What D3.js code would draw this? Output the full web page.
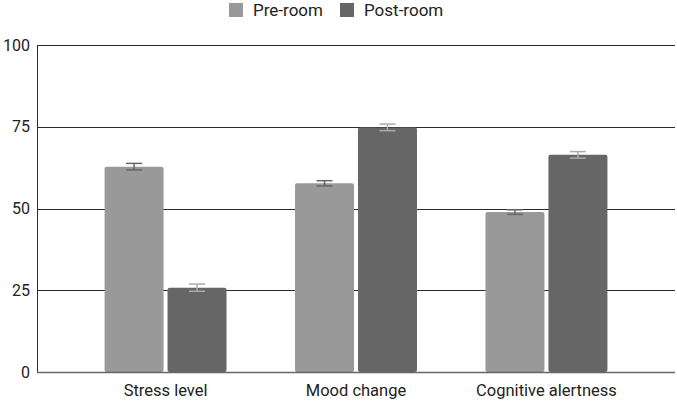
<!DOCTYPE html>
<html>
<head>
<meta charset="utf-8">
<script src="https://cdn.jsdelivr.net/npm/d3@7"></script>
<style>
  body { margin: 0; background: #fff; }
  svg { font-family: Roboto, sans-serif; }
</style>
</head>
<body>
<svg id="chart" width="677" height="403"></svg>
<script>
const categories = ['Stress level', 'Mood change', 'Cognitive alertness'];
const series = ['Pre-room', 'Post-room'];
const preValues = [62.8, 57.7, 48.9];
const postValues = [25.8, 74.8, 66.4];
const preErrors = [1.0, 0.8, 0.7];
const postErrors = [1.1, 1.0, 1.0];
const yTicks = [0, 25, 50, 75, 100];

const colors = { 'Pre-room': '#999999', 'Post-room': '#666666' };
const errColors = { 'Pre-room': '#666666', 'Post-room': '#aaaaaa' };

const data = categories.map((c, i) => ({
  category: c,
  values: [
    { key: 'Pre-room', value: preValues[i], err: preErrors[i] },
    { key: 'Post-room', value: postValues[i], err: postErrors[i] }
  ]
}));

const svg = d3.select('#chart');
const margin = { top: 45, right: 2, bottom: 31, left: 37 };
const width = +svg.attr('width') - margin.left - margin.right;
const height = +svg.attr('height') - margin.top - margin.bottom;

const g = svg.append('g')
  .attr('transform', `translate(${margin.left},${margin.top})`);

const x0 = d3.scaleBand()
  .domain(categories)
  .range([0, width])
  .paddingInner(0)
  .paddingOuter(0.175);

const x1 = d3.scaleBand()
  .domain(series)
  .range([0, x0.bandwidth()])
  .paddingInner(0.063)
  .paddingOuter(0.544);

const y = d3.scaleLinear()
  .domain([0, 100])
  .range([height, 0]);

// gridlines
g.append('g')
  .selectAll('line')
  .data(yTicks.filter(d => d > 0))
  .enter().append('line')
    .attr('x1', 0)
    .attr('x2', width)
    .attr('y1', d => Math.round(y(d)) + 0.5)
    .attr('y2', d => Math.round(y(d)) + 0.5)
    .attr('stroke', '#2b2b2b')
    .attr('stroke-width', 1);

// y axis labels
g.append('g')
  .selectAll('text')
  .data(yTicks)
  .enter().append('text')
    .attr('x', -7)
    .attr('y', d => y(d))
    .attr('dy', '0.35em')
    .attr('text-anchor', 'end')
    .attr('font-size', 16)
    .attr('fill', '#222')
    .text(d => d);

// bars
const groups = g.selectAll('.group')
  .data(data)
  .enter().append('g')
    .attr('class', 'group')
    .attr('transform', d => `translate(${x0(d.category)},0)`);

groups.selectAll('rect')
  .data(d => d.values)
  .enter().append('rect')
    .attr('x', d => x1(d.key))
    .attr('y', d => y(d.value))
    .attr('width', x1.bandwidth())
    .attr('height', d => height - y(d.value))
    .attr('rx', 2)
    .attr('fill', d => colors[d.key]);

// error bars
const err = groups.selectAll('.err')
  .data(d => d.values)
  .enter().append('g')
    .attr('class', 'err')
    .attr('stroke', d => errColors[d.key])
    .attr('stroke-width', 1.5);

err.append('line')
  .attr('x1', d => x1(d.key) + x1.bandwidth() / 2)
  .attr('x2', d => x1(d.key) + x1.bandwidth() / 2)
  .attr('y1', d => y(d.value + d.err))
  .attr('y2', d => y(d.value - d.err));
err.append('line')
  .attr('x1', d => x1(d.key) + x1.bandwidth() / 2 - 8)
  .attr('x2', d => x1(d.key) + x1.bandwidth() / 2 + 8)
  .attr('y1', d => y(d.value + d.err))
  .attr('y2', d => y(d.value + d.err));
err.append('line')
  .attr('x1', d => x1(d.key) + x1.bandwidth() / 2 - 8)
  .attr('x2', d => x1(d.key) + x1.bandwidth() / 2 + 8)
  .attr('y1', d => y(d.value - d.err))
  .attr('y2', d => y(d.value - d.err));

// axes lines
g.append('line')
  .attr('x1', 0.5).attr('x2', 0.5)
  .attr('y1', 0).attr('y2', height)
  .attr('stroke', '#2b2b2b');
g.append('line')
  .attr('x1', 0).attr('x2', width)
  .attr('y1', height + 0.5).attr('y2', height + 0.5)
  .attr('stroke', '#666')
  .attr('stroke-width', 1.5);

// category labels
g.append('g')
  .selectAll('text')
  .data(categories)
  .enter().append('text')
    .attr('x', d => x0(d) + x0.bandwidth() / 2)
    .attr('y', height + 24)
    .attr('text-anchor', 'middle')
    .attr('font-size', 16.5)
    .attr('fill', '#222')
    .text(d => d);

// legend
const legendX = [229, 340];
const legend = svg.append('g')
  .selectAll('.legend')
  .data(series)
  .enter().append('g')
    .attr('class', 'legend')
    .attr('transform', (d, i) => `translate(${legendX[i]},3)`);

legend.append('rect')
  .attr('width', 14)
  .attr('height', 14)
  .attr('fill', d => colors[d]);

legend.append('text')
  .attr('x', 24)
  .attr('y', 7)
  .attr('dy', '0.35em')
  .attr('font-size', 17)
  .attr('fill', '#222')
  .text(d => d);
</script>
</body>
</html>
